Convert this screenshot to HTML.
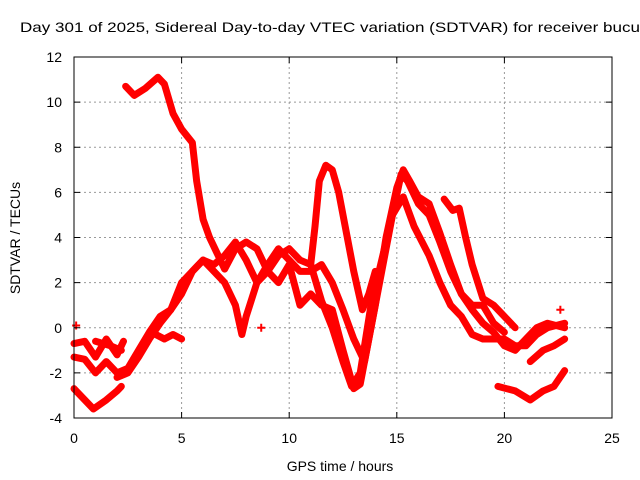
<!DOCTYPE html>
<html><head><meta charset="utf-8"><style>
body{margin:0;background:#fff;overflow:hidden;}
svg{display:block;font-family:"Liberation Sans",sans-serif;}
</style></head><body>
<svg id="chart" width="640" height="480" viewBox="0 0 640 480" xmlns="http://www.w3.org/2000/svg">
<text x="20" y="32" font-size="14" fill="#000" textLength="620" lengthAdjust="spacingAndGlyphs">Day 301 of 2025, Sidereal Day-to-day VTEC variation (SDTVAR) for receiver bucu</text>
<g id="grid"></g>
<g id="series"></g>
<rect x="74" y="57" width="538" height="361" fill="none" stroke="#000" stroke-width="1"/>
<g id="ticks"></g>
<text x="340" y="471" font-size="14" text-anchor="middle">GPS time / hours</text>
<text transform="translate(20,238) rotate(-90)" font-size="14" text-anchor="middle">SDTVAR / TECUs</text>
</svg>
<script>
const xTicks=[0,5,10,15,20,25];
const yTicks=[-4,-2,0,2,4,6,8,10,12];
const trace1=[[2.4,10.7],[2.8,10.3],[3.3,10.6],[3.9,11.1],[4.2,10.8],[4.6,9.5],[5.0,8.8],[5.5,8.2],[5.7,6.5],[6.0,4.8],[6.3,4.0],[6.7,3.2],[7.0,2.6],[7.5,3.5],[8.0,3.8],[8.5,3.5],[9.0,2.5],[9.5,3.2],[10.0,3.5],[10.5,3.0],[11.0,2.8],[11.5,1.2],[12.0,0.0],[12.5,-1.5],[12.9,-2.6],[13.3,-2.0],[13.8,1.0],[14.3,3.0],[14.8,5.0],[15.3,5.8],[15.8,4.5],[16.5,3.2],[17.0,2.0],[17.5,1.0],[18.0,0.5],[18.5,-0.3],[19.0,-0.5],[20.0,-0.5],[20.5,-0.8],[21.0,-0.8],[21.5,-0.3],[22.0,0.0],[22.8,0.2]];
const trace2=[[0,-1.3],[0.5,-1.4],[1.0,-2.0],[1.5,-1.5],[2.0,-2.0],[2.5,-1.8],[3.0,-1.0],[3.5,-0.2],[4.0,0.5],[4.5,0.8],[5.0,2.0],[5.5,2.5],[6.0,3.0],[6.5,2.8],[7.0,3.2],[7.5,3.8],[8.0,3.0],[8.5,2.0],[9.0,2.8],[9.5,3.5],[10.0,3.0],[10.5,2.5],[11.0,2.5],[11.5,2.8],[12.0,2.0],[12.5,0.8],[13.0,-0.5],[13.5,-1.5],[14.0,1.0],[14.5,4.0],[15.0,6.2],[15.3,7.0],[15.6,6.5],[16.0,5.8],[16.5,5.5],[17.0,4.2],[17.5,2.8],[18.0,1.5],[18.5,0.8],[19.0,0.2],[19.5,-0.2],[20.0,-0.8],[20.5,-1.0],[21.0,-0.5],[21.5,0.0],[22.0,0.2],[22.8,0.0]];
const trace3=[[2.0,-2.2],[2.5,-2.0],[3.0,-1.3],[3.5,-0.5],[4.0,0.2],[4.5,0.8],[5.0,1.5],[5.5,2.5],[6.0,3.0],[6.5,2.5],[7.0,2.0],[7.5,1.0],[7.8,-0.3],[8.0,0.5],[8.5,2.0],[9.0,2.5],[9.5,2.0],[10.0,2.8],[10.5,1.0],[11.0,1.5],[11.5,1.0],[12.0,0.8],[12.5,-1.0],[13.0,-2.7],[13.3,-2.5],[13.8,0.0],[14.3,2.5],[14.8,5.0],[15.2,6.8],[15.5,6.5],[16.0,5.5],[16.5,5.0],[17.0,3.8],[17.5,2.5],[18.0,1.5],[18.5,1.0],[19.0,1.0],[19.5,0.2],[20.0,-0.2]];
const trace4=[[11.0,2.8],[11.2,4.5],[11.4,6.5],[11.7,7.2],[12.0,7.0],[12.3,6.0],[12.6,4.5],[13.0,2.5],[13.4,0.8],[13.7,1.5],[14.0,2.5]];
const trace5=[[17.2,5.7],[17.6,5.2],[17.9,5.3],[18.2,4.0],[18.5,2.8],[19.0,1.3],[19.5,1.0],[20.0,0.5],[20.5,0.0]];
const trace6=[[0,-2.7],[0.5,-3.2],[0.9,-3.6],[1.5,-3.2],[2.0,-2.8],[2.2,-2.6]];
const trace7=[[19.7,-2.6],[20.5,-2.8],[21.2,-3.2],[21.8,-2.8],[22.3,-2.6],[22.8,-1.9]];
const trace8=[[21.2,-1.5],[21.8,-1.0],[22.3,-0.8],[22.8,-0.5]];
const trace9=[[0,-0.7],[0.5,-0.6],[1.0,-1.3],[1.5,-0.5],[2.0,-1.2],[2.3,-0.6]];
const trace10=[[1.0,-0.6],[1.7,-0.8],[2.2,-1.0]];
const trace11=[[3.8,-0.3],[4.2,-0.5],[4.6,-0.3],[5.0,-0.5]];
const isolated=[[0.1,0.1],[8.7,0.0],[22.6,0.8]];
const allTraces=[trace1,trace2,trace3,trace4,trace5,trace6,trace7,trace8,trace9,trace10,trace11];

const NS="http://www.w3.org/2000/svg";
const X0=74,X1=612,Y0=418,Y1=57;
function xs(v){return X0+(v-0)/(25-0)*(X1-X0);}
function ys(v){return Y0-(v+4)/(12+4)*(Y0-Y1);}
const grid=document.getElementById('grid'),ticks=document.getElementById('ticks'),ser=document.getElementById('series');
function mk(tag,attrs){const e=document.createElementNS(NS,tag);for(const k in attrs)e.setAttribute(k,attrs[k]);return e;}
xTicks.forEach(t=>{
  const x=xs(t);
  if(t>0&&t<25){const g=mk('line',{x1:x,x2:x,y1:Y1,y2:Y0,stroke:'#999','stroke-dasharray':'2,3'});
  
  
  grid.appendChild(g);}
  const tk=mk('line',{x1:x,x2:x,y1:Y0,y2:Y0-6,stroke:'#000'});
  
  
  ticks.appendChild(tk);
  const tk2=mk('line',{x1:x,x2:x,y1:Y1,y2:Y1+6,stroke:'#000'});
  
  
  ticks.appendChild(tk2);
  const l=mk('text',{x:x,y:443,'font-size':14,'text-anchor':'middle'});l.textContent=t;
  
  
  ticks.appendChild(l);
});
yTicks.forEach(t=>{
  const y=ys(t);
  if(t>-4&&t<12){const g=mk('line',{x1:X0,x2:X1,y1:y,y2:y,stroke:'#999','stroke-dasharray':'2,3'});
  
  
  grid.appendChild(g);}
  const tk=mk('line',{x1:X0,x2:X0+6,y1:y,y2:y,stroke:'#000'});
  
  
  ticks.appendChild(tk);
  const tk2=mk('line',{x1:X1-6,x2:X1,y1:y,y2:y,stroke:'#000'});
  
  
  ticks.appendChild(tk2);
  const l=mk('text',{x:62,y:y+5,'font-size':14,'text-anchor':'end'});l.textContent=t;
  
  
  ticks.appendChild(l);
});
allTraces.forEach((tr,i)=>{
  const p=mk('polyline',{points:tr.map(d=>xs(d[0])+','+ys(d[1])).join(' '),fill:'none',stroke:'#f00','stroke-width':7,'stroke-linejoin':'round','stroke-linecap':'round'});
  
  
  ser.appendChild(p);
});
isolated.forEach(d=>{
  const c=mk('path',{d:`M${xs(d[0])-4},${ys(d[1])}h8M${xs(d[0])},${ys(d[1])-4}v8`,stroke:'#f00','stroke-width':2});
  
  
  ser.appendChild(c);
});
</script>
</body></html>
